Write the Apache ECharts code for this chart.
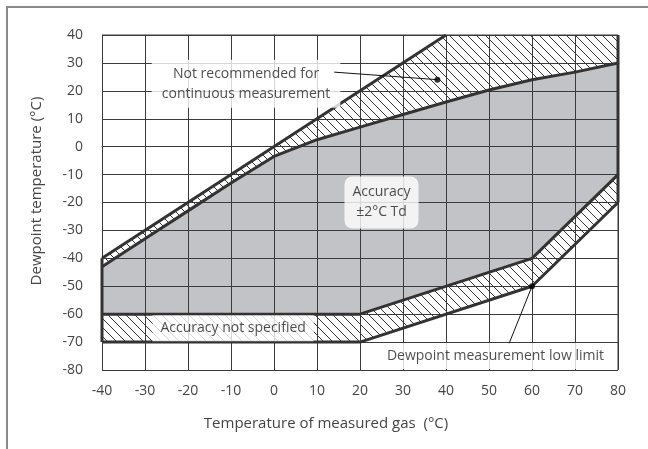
<!DOCTYPE html>
<html>
<head>
<meta charset="utf-8">
<script src="https://cdn.jsdelivr.net/npm/echarts@6/dist/echarts.min.js"></script>
<style>
  html, body { margin: 0; padding: 0; background: #fff; }
  #chart { width: 648px; height: 449px; }
</style>
</head>
<body>
<div id="chart"></div>
<script>
// boundary curves, [gas temperature, dewpoint]
const upperLimit = [[-40, -40], [40, 40], [80, 40]]
const accuracyTop = [[-40, -43], [-30, -33], [-20, -23], [-10, -13], [0, -3.5], [10, 2.5],
  [20, 7], [30, 11.5], [40, 16], [50, 20.3], [60, 24], [70, 26.7], [80, 30]]
const accuracyBottom = [[-40, -60], [20, -60], [60, -40], [80, -10]]
const lowLimit = [[-40, -70], [20, -70], [60, -50], [80, -20]]
const rightEdge = [[80, 40], [80, -20]]
const leftEdge = [[-40, -40], [-40, -70]]

// annotations
const noteTexts = ['Not recommended for\ncontinuous measurement', 'Accuracy\n±2°C Td',
  'Accuracy not specified', 'Dewpoint measurement low limit']
const notePoints = [[-6.5, 22.5], [25, -20], [-9.5, -65], [51.5, -75]]
const markerPoints = [[38, 24], [60, -50]]
const leaderA = [[14, 26.7], [38, 24]]
const leaderB = [[54.7, -70.4], [60, -50]]

const notRecommendedPoly = upperLimit.concat(accuracyTop.slice().reverse())
const accuracyPoly = accuracyTop.concat(accuracyBottom.slice().reverse())
const unspecifiedPoly = accuracyBottom.concat(lowLimit.slice().reverse())

const FONT = '"Open Sans", sans-serif'

const makeHatch = () => {
  const c = document.createElement('canvas')
  c.width = 9
  c.height = 9
  const ctx = c.getContext('2d')
  ctx.strokeStyle = '#333'
  ctx.lineWidth = 1
  for (let k = -1; k <= 1; k++) {
    ctx.beginPath()
    ctx.moveTo(k * 9, 0)
    ctx.lineTo(k * 9 + 9, 9)
    ctx.stroke()
  }
  return c
}
const hatch = { image: makeHatch(), repeat: 'repeat' }

const polySeries = (poly, fill) => ({
  type: 'custom',
  z: 1,
  silent: true,
  data: [0],
  renderItem: (params, api) => ({
    type: 'polygon',
    shape: { points: poly.map(p => api.coord(p)) },
    style: { fill: fill, stroke: 'none' }
  })
})

const thickLine = data => ({
  type: 'line',
  z: 4,
  data: data,
  symbol: 'none',
  silent: true,
  lineStyle: { color: '#333', width: 3 }
})

const thinLine = data => ({
  type: 'line',
  z: 6,
  data: data,
  symbol: 'none',
  silent: true,
  lineStyle: { color: '#111', width: 1 }
})

const chart = echarts.init(document.getElementById('chart'))

const option = {
  animation: false,
  grid: { left: 102, top: 35, right: 30, bottom: 79 },
  xAxis: {
    type: 'value',
    min: -40,
    max: 80,
    interval: 10,
    z: 3,
    axisLine: { show: true, lineStyle: { color: '#3a3a3a', width: 1 } },
    axisTick: { show: false },
    splitLine: { show: true, lineStyle: { color: '#3a3a3a', width: 1 } },
    axisLabel: { color: '#444', fontSize: 14, fontFamily: FONT, margin: 14 }
  },
  yAxis: {
    type: 'value',
    min: -80,
    max: 40,
    interval: 10,
    z: 3,
    axisLine: { show: true, lineStyle: { color: '#3a3a3a', width: 1 } },
    axisTick: { show: false },
    splitLine: { show: true, lineStyle: { color: '#3a3a3a', width: 1 } },
    axisLabel: { color: '#444', fontSize: 14, fontFamily: FONT, margin: 19 }
  },
  graphic: [
    {
      type: 'rect',
      shape: { x: 7, y: 7, width: 700, height: 500 },
      style: { fill: 'none', stroke: '#8a8a8a', lineWidth: 2 }
    },
    {
      type: 'line',
      z: 3,
      shape: { x1: 618, y1: 35, x2: 618, y2: 370 },
      style: { stroke: '#3a3a3a', lineWidth: 1 }
    },
    {
      type: 'line',
      z: 3,
      shape: { x1: 102, y1: 35, x2: 618, y2: 35 },
      style: { stroke: '#3a3a3a', lineWidth: 1 }
    },
    {
      type: 'text',
      x: 326,
      y: 424,
      style: {
        text: 'Temperature of measured gas  (°C)',
        font: '15px ' + FONT,
        fill: '#444',
        textAlign: 'center',
        textVerticalAlign: 'middle'
      }
    },
    {
      type: 'text',
      x: 37,
      y: 191,
      rotation: Math.PI / 2,
      style: {
        text: 'Dewpoint temperature (°C)',
        font: '15px ' + FONT,
        fill: '#444',
        textAlign: 'center',
        textVerticalAlign: 'middle'
      }
    }
  ],
  series: [
    polySeries(accuracyPoly, '#c2c3c7'),
    polySeries(notRecommendedPoly, hatch),
    polySeries(unspecifiedPoly, hatch),
    thickLine(upperLimit.slice(0, 2)),
    thickLine(accuracyTop),
    thickLine(accuracyBottom),
    thickLine(lowLimit),
    thickLine(rightEdge),
    thickLine(leftEdge),
    thinLine(leaderA),
    thinLine(leaderB),
    {
      type: 'scatter',
      z: 7,
      silent: true,
      symbolSize: 6,
      itemStyle: { color: '#000' },
      data: markerPoints
    },
    {
      type: 'scatter',
      z: 5,
      silent: true,
      symbolSize: 1,
      itemStyle: { color: 'rgba(0,0,0,0)' },
      data: notePoints.map((p, i) => ({
        value: p,
        label: {
          formatter: noteTexts[i],
          borderRadius: i === 1 ? 8 : 0,
          padding: i === 0 ? [4, 10] : (i === 1 ? [6, 8] : [3, 8])
        }
      })),
      label: {
        show: true,
        position: 'inside',
        color: '#222',
        fontSize: 14,
        fontFamily: FONT,
        lineHeight: 20,
        align: 'center',
        backgroundColor: '#fff'
      }
    }
  ]
}

chart.setOption(option)
</script>
</body>
</html>
